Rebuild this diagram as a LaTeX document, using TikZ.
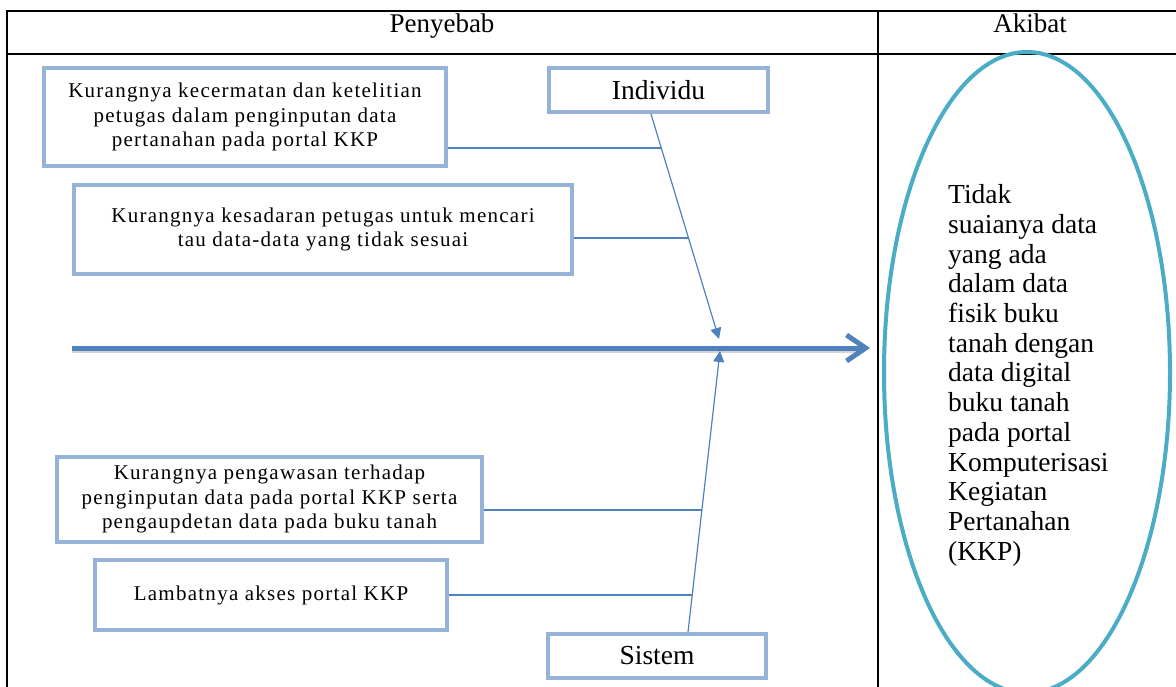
\documentclass[tikz,border=0pt]{standalone}
\usepackage{fontspec}
\setmainfont{Liberation Serif}
\newfontfamily\boxfont{Liberation Serif}[LetterSpace=6.0]
\usetikzlibrary{arrows.meta,shapes.geometric}
\definecolor{boxblue}{HTML}{95B3D7}
\definecolor{lineblue}{HTML}{4F81BD}
\definecolor{ellteal}{HTML}{4BACC6}
\tikzset{
  causebox/.style={draw=boxblue, line width=4pt, rectangle, inner sep=0pt, align=center,
    font=\boxfont\fontsize{21}{24.5}\selectfont},
  catbox/.style={draw=boxblue, line width=4pt, rectangle, inner sep=0pt,
    font=\fontsize{27.5}{30}\selectfont},
  bone/.style={draw=lineblue, line width=1.2pt},
  tableline/.style={draw=black, line width=1.8pt},
  headtext/.style={font=\fontsize{27}{30}\selectfont, inner sep=0pt, anchor=base}
}
\begin{document}
\begin{tikzpicture}[x=1pt,y=-1pt]
\useasboundingbox (0,0) rectangle (1176,687);
% table
\draw[tableline] (7,700) -- (7,11) -- (1190,11);
\draw[tableline] (7,54) -- (1190,54);
\draw[tableline] (878,11) -- (878,700);
\node[headtext] (hp) at (442,33) {Penyebab};
\node[headtext] (ha) at (1030,33) {Akibat};
% effect
\node[draw=ellteal, line width=4pt, ellipse, minimum width=286pt, minimum height=641pt, inner sep=0pt] (eff) at (1027,372.5) {};
\node[anchor=north west, align=left, inner sep=0pt, font=\fontsize{27.5}{29.7}\selectfont] (efftext) at (948,184.5)
 {Tidak\\ suaianya data\\ yang ada\\ dalam data\\ fisik buku\\ tanah dengan\\ data digital\\ buku tanah\\ pada portal\\ Komputerisasi\\ Kegiatan\\ Pertanahan\\ (KKP)};
% spine
\coordinate (sp0) at (72,348);
\coordinate (sp1) at (870,348);
\draw[draw=gray!35, line width=5pt, transform canvas={yshift=-2.5pt}] (sp0) -- ([xshift=-6pt]sp1);
\draw[draw=lineblue, line width=5pt, -{Straight Barb[length=19pt,width=26pt]}] (sp0) -- (sp1);
% category boxes
\node[catbox, minimum width=219pt, minimum height=44pt] (ind) at (658.5,90) {Individu};
\node[catbox, minimum width=218pt, minimum height=44pt] (sys) at (657,656) {Sistem};
% cause boxes
\node[causebox, minimum width=402pt, minimum height=98pt] (b1) at (245,117)
 {Kurangnya kecermatan dan ketelitian\\ petugas dalam penginputan data\\ pertanahan pada portal KKP};
\node[causebox, minimum width=498pt, minimum height=89pt] (b2) at (323,229.5)
 {Kurangnya kesadaran petugas untuk mencari\\ tau data-data yang tidak sesuai};
\node[causebox, minimum width=425pt, minimum height=85pt] (b3) at (269.5,499)
 {Kurangnya pengawasan terhadap\\ penginputan data pada portal KKP serta\\ pengaupdetan data pada buku tanah};
\node[causebox, minimum width=352pt, minimum height=70pt] (b4) at (271,595)
 {Lambatnya akses portal KKP};
% main bones
\coordinate (tipI) at (719,339);
\coordinate (tipS) at (720,351);
\draw[bone, -{Triangle[length=11pt,width=11pt]}] ([xshift=-7.5pt]ind.south) -- (tipI)
  coordinate[pos=0.151] (i1) coordinate[pos=0.551] (i2);
\draw[bone, -{Triangle[length=11pt,width=11pt]}] ([xshift=31pt]sys.north) -- (tipS)
  coordinate[pos=0.434] (s1) coordinate[pos=0.132] (s2);
% sub bones
\draw[bone] (b1.east |- i1) -- (i1);
\draw[bone] (b2.east |- i2) -- (i2);
\draw[bone] (b3.east |- s1) -- (s1);
\draw[bone] (b4.east |- s2) -- (s2);
\end{tikzpicture}
\end{document}
